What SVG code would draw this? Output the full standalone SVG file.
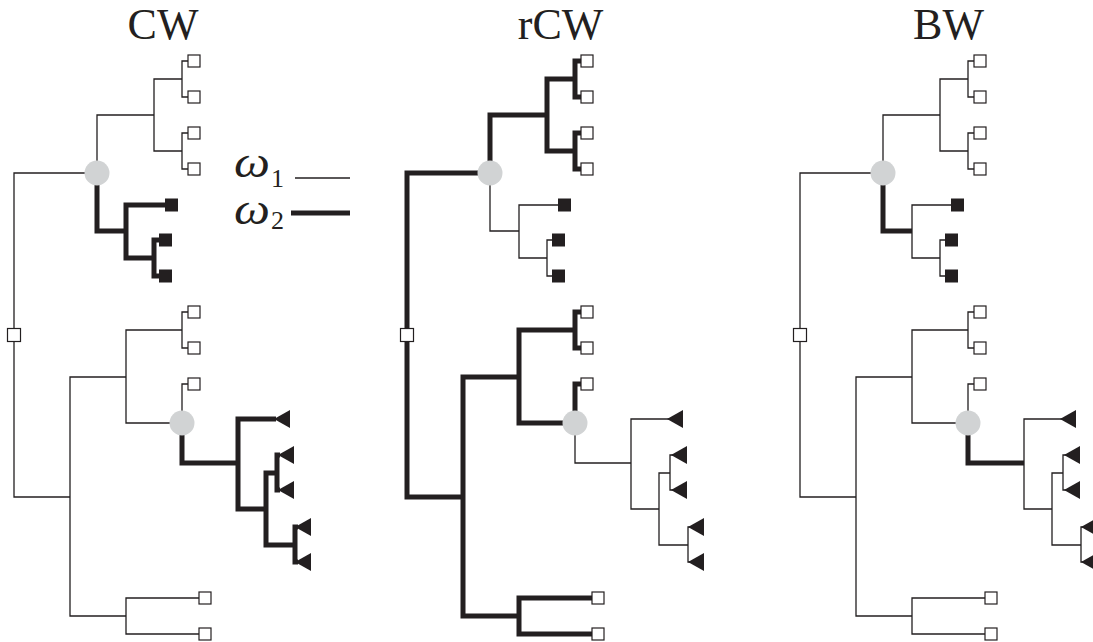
<svg xmlns="http://www.w3.org/2000/svg" xmlns:xlink="http://www.w3.org/1999/xlink" width="1093" height="642" viewBox="0 0 1093 642">
<style>
.e{fill:none;stroke:#231f20;stroke-linejoin:miter;stroke-linecap:butt}
.t{stroke-width:1.3}
.k{stroke-width:5}
.title{font-family:"Liberation Serif","Times New Roman",serif;font-size:44px;fill:#231f20;text-anchor:middle}
.om{font-family:"Liberation Serif","DejaVu Serif",serif;font-style:italic;font-size:44px;fill:#231f20}
.sub{font-family:"Liberation Serif","DejaVu Serif",serif;font-size:26px;fill:#231f20}
</style>
<defs>
<rect id="sq" x="0" y="-6" width="12" height="12" fill="#ffffff" stroke="#231f20" stroke-width="1.2"/>
<rect id="rsq" x="-6.5" y="-6.5" width="13" height="13" fill="#ffffff" stroke="#231f20" stroke-width="1.2"/>
<rect id="bsq" x="0" y="-6.5" width="13" height="13" fill="#231f20"/>
<polygon id="tri" points="0,0 16,-9 16,9" fill="#231f20"/>
<circle id="gc" cx="0" cy="0" r="12.5" fill="#d1d3d4"/>
</defs>
<rect width="1093" height="642" fill="#ffffff"/>

<text class="title" x="163" y="39">CW</text>
<text class="title" x="560.5" y="39">rCW</text>
<text class="title" x="948.5" y="39">BW</text>

<g id="legend">
<text class="om" x="234" y="177" textLength="36" lengthAdjust="spacingAndGlyphs">ω</text>
<text class="sub" x="271" y="187">1</text>
<text class="om" x="234" y="224" textLength="36" lengthAdjust="spacingAndGlyphs">ω</text>
<text class="sub" x="271" y="229">2</text>
<path class="e t" d="M295,178 H350"/>
<path class="e k" d="M291,213 H350"/>
</g>

<!-- CW tree -->
<g id="cw" transform="translate(0,0)">
<g id="cw-connectors">
<path class="e t" d="M14,335 V173 H97"/>
<path class="e t" d="M14,335 V497 H70"/>
<path class="e t" d="M97,173 V115 H154"/>
<path class="e t" d="M154,115 V79 H182"/>
<path class="e t" d="M154,115 V151 H182"/>
<path class="e t" d="M182,79 V61 H188"/>
<path class="e t" d="M182,79 V97 H188"/>
<path class="e t" d="M182,151 V133 H188"/>
<path class="e t" d="M182,151 V169 H188"/>
<path class="e k" d="M97,173 V231 H126"/>
<path class="e k" d="M126,231 V205 H165"/>
<path class="e k" d="M126,231 V258 H154"/>
<path class="e k" d="M154,258 V240 H159"/>
<path class="e k" d="M154,258 V276 H159"/>
<path class="e t" d="M70,497 V377 H126"/>
<path class="e t" d="M70,497 V616 H126"/>
<path class="e t" d="M126,377 V330 H182"/>
<path class="e t" d="M126,377 V423 H182"/>
<path class="e t" d="M182,330 V312 H188"/>
<path class="e t" d="M182,330 V348 H188"/>
<path class="e t" d="M182,423 V384 H188"/>
<path class="e k" d="M182,423 V463 H238"/>
<path class="e k" d="M238,463 V419 H276"/>
<path class="e k" d="M238,463 V509 H266"/>
<path class="e k" d="M266,509 V473 H277"/>
<path class="e k" d="M266,509 V545 H295"/>
<path class="e k" d="M277,473 V455 H280"/>
<path class="e k" d="M277,473 V490 H280"/>
<path class="e k" d="M295,545 V527 H298"/>
<path class="e k" d="M295,545 V562 H298"/>
<path class="e t" d="M126,616 V598 H199"/>
<path class="e t" d="M126,616 V634 H199"/>
</g>
<g id="cw-root"><use href="#rsq" x="14" y="335"/></g>
<g id="cw-a"><use href="#gc" x="97" y="173"/></g>
<g id="cw-b"><use href="#gc" x="182" y="423"/></g>
<g id="cw-l1"><use href="#sq" x="188" y="61"/></g>
<g id="cw-l2"><use href="#sq" x="188" y="97"/></g>
<g id="cw-l3"><use href="#sq" x="188" y="133"/></g>
<g id="cw-l4"><use href="#sq" x="188" y="169"/></g>
<g id="cw-b1"><use href="#bsq" x="165" y="205"/></g>
<g id="cw-b2"><use href="#bsq" x="159" y="240"/></g>
<g id="cw-b3"><use href="#bsq" x="159" y="276"/></g>
<g id="cw-l5"><use href="#sq" x="188" y="312"/></g>
<g id="cw-l6"><use href="#sq" x="188" y="348"/></g>
<g id="cw-l7"><use href="#sq" x="188" y="384"/></g>
<g id="cw-t1"><use href="#tri" x="274" y="419"/></g>
<g id="cw-t2"><use href="#tri" x="278" y="455"/></g>
<g id="cw-t3"><use href="#tri" x="278" y="490"/></g>
<g id="cw-t4"><use href="#tri" x="295" y="527"/></g>
<g id="cw-t5"><use href="#tri" x="295" y="562"/></g>
<g id="cw-l8"><use href="#sq" x="199" y="598"/></g>
<g id="cw-l9"><use href="#sq" x="199" y="634"/></g>
</g>

<!-- rCW tree -->
<g id="rcw" transform="translate(393,0)">
<g id="rcw-connectors">
<path class="e k" d="M14,335 V173 H97"/>
<path class="e k" d="M14,335 V497 H70"/>
<path class="e k" d="M97,173 V115 H154"/>
<path class="e k" d="M154,115 V79 H182"/>
<path class="e k" d="M154,115 V151 H182"/>
<path class="e k" d="M182,79 V61 H188"/>
<path class="e k" d="M182,79 V97 H188"/>
<path class="e k" d="M182,151 V133 H188"/>
<path class="e k" d="M182,151 V169 H188"/>
<path class="e t" d="M97,173 V231 H126"/>
<path class="e t" d="M126,231 V205 H165"/>
<path class="e t" d="M126,231 V258 H154"/>
<path class="e t" d="M154,258 V240 H159"/>
<path class="e t" d="M154,258 V276 H159"/>
<path class="e k" d="M70,497 V377 H126"/>
<path class="e k" d="M70,497 V616 H126"/>
<path class="e k" d="M126,377 V330 H182"/>
<path class="e k" d="M126,377 V423 H182"/>
<path class="e k" d="M182,330 V312 H188"/>
<path class="e k" d="M182,330 V348 H188"/>
<path class="e k" d="M182,423 V384 H188"/>
<path class="e t" d="M182,423 V463 H238"/>
<path class="e t" d="M238,463 V419 H276"/>
<path class="e t" d="M238,463 V509 H266"/>
<path class="e t" d="M266,509 V473 H277"/>
<path class="e t" d="M266,509 V545 H295"/>
<path class="e t" d="M277,473 V455 H280"/>
<path class="e t" d="M277,473 V490 H280"/>
<path class="e t" d="M295,545 V527 H298"/>
<path class="e t" d="M295,545 V562 H298"/>
<path class="e k" d="M126,616 V598 H199"/>
<path class="e k" d="M126,616 V634 H199"/>
</g>
<g id="rcw-root"><use href="#rsq" x="14" y="335"/></g>
<g id="rcw-a"><use href="#gc" x="97" y="173"/></g>
<g id="rcw-b"><use href="#gc" x="182" y="423"/></g>
<g id="rcw-l1"><use href="#sq" x="188" y="61"/></g>
<g id="rcw-l2"><use href="#sq" x="188" y="97"/></g>
<g id="rcw-l3"><use href="#sq" x="188" y="133"/></g>
<g id="rcw-l4"><use href="#sq" x="188" y="169"/></g>
<g id="rcw-b1"><use href="#bsq" x="165" y="205"/></g>
<g id="rcw-b2"><use href="#bsq" x="159" y="240"/></g>
<g id="rcw-b3"><use href="#bsq" x="159" y="276"/></g>
<g id="rcw-l5"><use href="#sq" x="188" y="312"/></g>
<g id="rcw-l6"><use href="#sq" x="188" y="348"/></g>
<g id="rcw-l7"><use href="#sq" x="188" y="384"/></g>
<g id="rcw-t1"><use href="#tri" x="274" y="419"/></g>
<g id="rcw-t2"><use href="#tri" x="278" y="455"/></g>
<g id="rcw-t3"><use href="#tri" x="278" y="490"/></g>
<g id="rcw-t4"><use href="#tri" x="295" y="527"/></g>
<g id="rcw-t5"><use href="#tri" x="295" y="562"/></g>
<g id="rcw-l8"><use href="#sq" x="199" y="598"/></g>
<g id="rcw-l9"><use href="#sq" x="199" y="634"/></g>
</g>

<!-- BW tree -->
<g id="bw" transform="translate(786,0)">
<g id="bw-connectors">
<path class="e t" d="M14,335 V173 H97"/>
<path class="e t" d="M14,335 V497 H70"/>
<path class="e t" d="M97,173 V115 H154"/>
<path class="e t" d="M154,115 V79 H182"/>
<path class="e t" d="M154,115 V151 H182"/>
<path class="e t" d="M182,79 V61 H188"/>
<path class="e t" d="M182,79 V97 H188"/>
<path class="e t" d="M182,151 V133 H188"/>
<path class="e t" d="M182,151 V169 H188"/>
<path class="e k" d="M97,173 V231 H126"/>
<path class="e t" d="M126,231 V205 H165"/>
<path class="e t" d="M126,231 V258 H154"/>
<path class="e t" d="M154,258 V240 H159"/>
<path class="e t" d="M154,258 V276 H159"/>
<path class="e t" d="M70,497 V377 H126"/>
<path class="e t" d="M70,497 V616 H126"/>
<path class="e t" d="M126,377 V330 H182"/>
<path class="e t" d="M126,377 V423 H182"/>
<path class="e t" d="M182,330 V312 H188"/>
<path class="e t" d="M182,330 V348 H188"/>
<path class="e t" d="M182,423 V384 H188"/>
<path class="e k" d="M182,423 V463 H238"/>
<path class="e t" d="M238,463 V419 H276"/>
<path class="e t" d="M238,463 V509 H266"/>
<path class="e t" d="M266,509 V473 H277"/>
<path class="e t" d="M266,509 V545 H295"/>
<path class="e t" d="M277,473 V455 H280"/>
<path class="e t" d="M277,473 V490 H280"/>
<path class="e t" d="M295,545 V527 H298"/>
<path class="e t" d="M295,545 V562 H298"/>
<path class="e t" d="M126,616 V598 H199"/>
<path class="e t" d="M126,616 V634 H199"/>
</g>
<g id="bw-root"><use href="#rsq" x="14" y="335"/></g>
<g id="bw-a"><use href="#gc" x="97" y="173"/></g>
<g id="bw-b"><use href="#gc" x="182" y="423"/></g>
<g id="bw-l1"><use href="#sq" x="188" y="61"/></g>
<g id="bw-l2"><use href="#sq" x="188" y="97"/></g>
<g id="bw-l3"><use href="#sq" x="188" y="133"/></g>
<g id="bw-l4"><use href="#sq" x="188" y="169"/></g>
<g id="bw-b1"><use href="#bsq" x="165" y="205"/></g>
<g id="bw-b2"><use href="#bsq" x="159" y="240"/></g>
<g id="bw-b3"><use href="#bsq" x="159" y="276"/></g>
<g id="bw-l5"><use href="#sq" x="188" y="312"/></g>
<g id="bw-l6"><use href="#sq" x="188" y="348"/></g>
<g id="bw-l7"><use href="#sq" x="188" y="384"/></g>
<g id="bw-t1"><use href="#tri" x="274" y="419"/></g>
<g id="bw-t2"><use href="#tri" x="278" y="455"/></g>
<g id="bw-t3"><use href="#tri" x="278" y="490"/></g>
<g id="bw-t4"><use href="#tri" x="295" y="527"/></g>
<g id="bw-t5"><use href="#tri" x="295" y="562"/></g>
<g id="bw-l8"><use href="#sq" x="199" y="598"/></g>
<g id="bw-l9"><use href="#sq" x="199" y="634"/></g>
</g>
</svg>
